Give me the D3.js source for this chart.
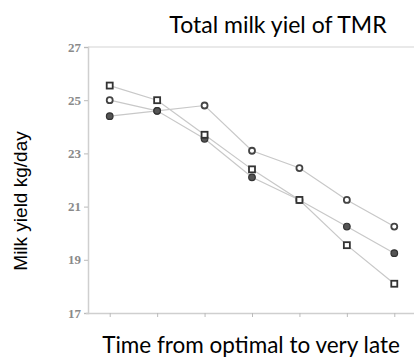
<!DOCTYPE html>
<html>
<head>
<meta charset="utf-8">
<script src="https://cdn.jsdelivr.net/npm/d3@7"></script>
<style>
  body { margin: 0; background: #fff; }
  svg { display: block; }
</style>
</head>
<body>
<div id="chart"></div>
<script>
// x positions (time points), no labels shown
const timePoints = [1, 2, 3, 4, 5, 6, 7];
const yTicks = [17, 19, 21, 23, 25, 27];

// series values
const seriesSquare = [25.55, 25.0, 23.7, 22.4, 21.25, 19.55, 18.1];
const seriesOpen = [25.0, 24.6, 24.8, 23.1, 22.45, 21.25, 20.25];
const seriesFilled = [24.4, 24.6, 23.55, 22.1, 21.25, 20.25, 19.25];

const width = 420, height = 358;

const svg = d3.select('#chart').append('svg')
    .attr('width', width)
    .attr('height', height);

const x = d3.scaleLinear()
    .domain([0.5, 7.5])
    .range([86, 418]);

const y = d3.scaleLinear()
    .domain([17, 27])
    .range([313, 47]);

// top frame line
svg.append('line')
    .attr('x1', 88).attr('x2', 414)
    .attr('y1', y(27)).attr('y2', y(27))
    .attr('stroke', '#e2e2e2')
    .attr('stroke-width', 1.5);

// y axis
const yAxis = svg.append('g')
    .attr('transform', 'translate(88,0)')
    .call(d3.axisLeft(y).tickValues(yTicks).tickSize(4).tickPadding(3));
yAxis.select('.domain').attr('stroke', '#cfcfcf').attr('stroke-width', 1.5);
yAxis.selectAll('.tick line').attr('stroke', '#bbb');
yAxis.selectAll('.tick text')
    .attr('fill', '#8a8a8a')
    .attr('font-family', '"Liberation Serif", "DejaVu Serif", serif')
    .attr('font-size', '13px')
    .attr('font-weight', 'bold');

// x axis
const xAxis = svg.append('g')
    .attr('transform', `translate(0,${y(17)})`)
    .call(d3.axisBottom(x).tickValues(timePoints).tickSize(4).tickFormat(''));
xAxis.select('.domain').attr('stroke', '#cfcfcf').attr('stroke-width', 1.5)
    .attr('d', `M86,0.5H414`);
xAxis.selectAll('.tick line').attr('stroke', '#bbb');

// lines
const line = d3.line()
    .x((d, i) => x(timePoints[i]))
    .y(d => y(d));

const allSeries = [
    { values: seriesOpen, type: 'circle' },
    { values: seriesFilled, type: 'filled' },
    { values: seriesSquare, type: 'square' }
];

allSeries.forEach(s => {
    svg.append('path')
        .datum(s.values)
        .attr('d', line)
        .attr('fill', 'none')
        .attr('stroke', '#c8c8c8')
        .attr('stroke-width', 1.2);
});

allSeries.forEach(s => {
    const g = svg.append('g');
    s.values.forEach((v, i) => {
        const cx = x(timePoints[i]), cy = y(v);
        if (s.type === 'square') {
            g.append('rect')
                .attr('x', cx - 3).attr('y', cy - 3)
                .attr('width', 6).attr('height', 6)
                .attr('fill', '#fff')
                .attr('stroke', '#333')
                .attr('stroke-width', 1.8);
        } else if (s.type === 'circle') {
            g.append('circle')
                .attr('cx', cx).attr('cy', cy).attr('r', 3)
                .attr('fill', '#fff')
                .attr('stroke', '#444')
                .attr('stroke-width', 1.8);
        } else {
            g.append('circle')
                .attr('cx', cx).attr('cy', cy).attr('r', 3.3)
                .attr('fill', '#555')
                .attr('stroke', '#333')
                .attr('stroke-width', 1.2);
        }
    });
});

// title and axis labels
svg.append('text')
    .attr('x', 278).attr('y', 33)
    .attr('text-anchor', 'middle')
    .attr('font-family', 'Lato, "Open Sans", sans-serif')
    .attr('font-size', '23px')
    .attr('fill', '#000')
    .text('Total milk yiel of TMR');

svg.append('text')
    .attr('transform', 'translate(27,201) rotate(-90)')
    .attr('text-anchor', 'middle')
    .attr('font-family', '"Liberation Sans", Arial, sans-serif')
    .attr('font-size', '19px')
    .attr('fill', '#000')
    .text('Milk yield kg/day');

svg.append('text')
    .attr('x', 251).attr('y', 353)
    .attr('text-anchor', 'middle')
    .attr('font-family', 'Lato, "Open Sans", sans-serif')
    .attr('font-size', '22.5px')
    .attr('fill', '#000')
    .text('Time from optimal to very late');
</script>
</body>
</html>
